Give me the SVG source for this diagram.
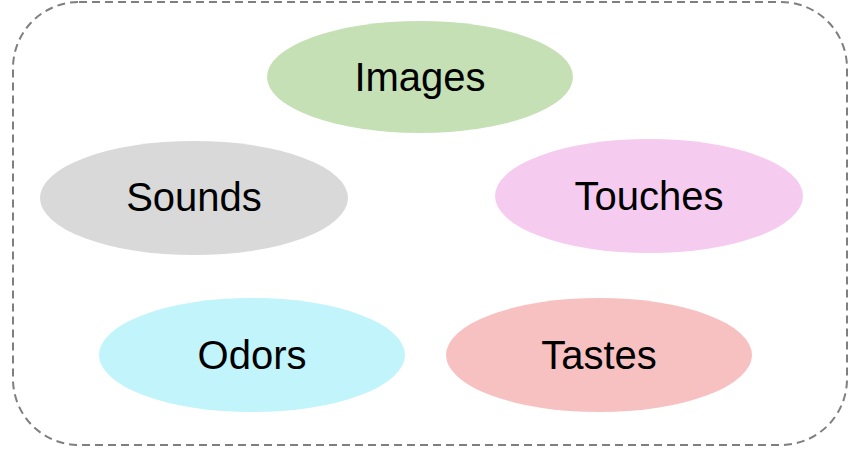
<svg xmlns="http://www.w3.org/2000/svg" width="858" height="455" viewBox="0 0 858 455">
<style>
.frame{fill:none;stroke:#7f7f7f;stroke-width:2;stroke-dasharray:8 5}
.lbl{font-family:"Liberation Sans",Arial,sans-serif;font-size:40px;fill:#000;text-anchor:middle}
</style>
<rect width="858" height="455" fill="#ffffff"/>
<rect class="frame" x="13" y="2" width="834" height="443" rx="66" ry="66"/>
<g id="connectors"></g>
<g id="images"><ellipse cx="420" cy="77" rx="153" ry="56" fill="#c5e0b4"/><text class="lbl" x="420" y="91">Images</text></g>
<g id="sounds"><ellipse cx="194" cy="198" rx="154" ry="57" fill="#d9d9d9"/><text class="lbl" x="194" y="211">Sounds</text></g>
<g id="touches"><ellipse cx="649" cy="196" rx="154" ry="57" fill="#f5cbf0"/><text class="lbl" x="649" y="210">Touches</text></g>
<g id="odors"><ellipse cx="252" cy="355" rx="153" ry="57" fill="#c1f4fb"/><text class="lbl" x="252" y="369">Odors</text></g>
<g id="tastes"><ellipse cx="599" cy="355" rx="153" ry="57" fill="#f8c1c1"/><text class="lbl" x="599" y="369">Tastes</text></g>
</svg>
